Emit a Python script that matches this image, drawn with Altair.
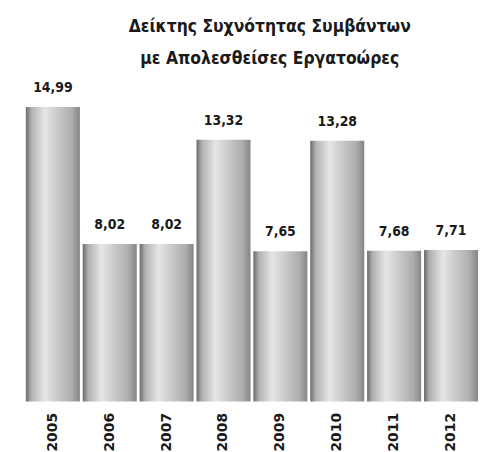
import altair as alt
import pandas as pd

years = ["2005", "2006", "2007", "2008", "2009", "2010", "2011", "2012"]
values = [14.99, 8.02, 8.02, 13.32, 7.65, 13.28, 7.68, 7.71]
labels = ["14,99", "8,02", "8,02", "13,32", "7,65", "13,28", "7,68", "7,71"]

df = pd.DataFrame({"year": years, "value": values, "label": labels})

title_font = "DejaVu Sans Condensed, DejaVu Sans, sans-serif"

x = alt.X("year:N", sort=years, title=None,
          scale=alt.Scale(paddingInner=0.05, paddingOuter=0),
          axis=alt.Axis(labelAngle=-90, labelAlign="right", labelBaseline="middle",
                        labelFont="DejaVu Sans", labelFontWeight="bold", labelFontSize=14,
                        labelColor="#1a1a1a", labelPadding=11, domain=False, ticks=False))
y = alt.Y("value:Q", scale=alt.Scale(domain=[0, 16], nice=False), axis=None, title=None)

grad = alt.Gradient(
    gradient="linear", x1=0, x2=1, y1=0, y2=0,
    stops=[
        alt.GradientStop(color="#6a6a6a", offset=0),
        alt.GradientStop(color="#b0b0b0", offset=0.1),
        alt.GradientStop(color="#e6e6e6", offset=0.35),
        alt.GradientStop(color="#c8c8c8", offset=0.6),
        alt.GradientStop(color="#adadad", offset=0.85),
        alt.GradientStop(color="#858585", offset=1),
    ],
)

bars = alt.Chart(df).mark_bar(color=grad).encode(x=x, y=y)

text = alt.Chart(df).mark_text(
    font=title_font, fontWeight="bold", fontSize=14, color="#1a1a1a", dy=-15, baseline="alphabetic"
).encode(x=alt.X("year:N", sort=years), y="value:Q", text="label:N")

chart = alt.layer(bars, text).properties(
    width=456, height=317,
    padding={"left": 18, "top": 8, "right": 2, "bottom": 0},
    title=alt.TitleParams(
        text=["Δείκτης Συχνότητας Συμβάντων", "με Απολεσθείσες Εργατοώρες"],
        font=title_font, fontSize=17.5, fontWeight="bold", color="#1a1a1a",
        lineHeight=32, anchor="middle", dx=18, offset=14,
    ),
).configure_view(stroke=None)

chart.save("out.html", embed_options={"renderer": "svg", "actions": False})
